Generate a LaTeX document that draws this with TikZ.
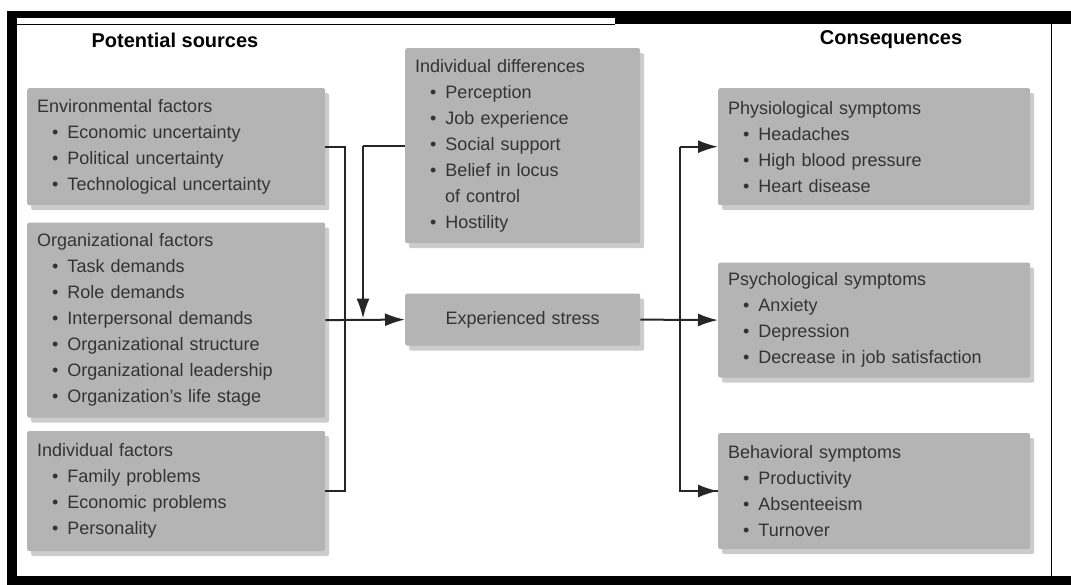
\documentclass[tikz,border=0pt]{standalone}
\usepackage{fontspec}
\setmainfont{Liberation Sans}
\usetikzlibrary{arrows.meta, positioning, shadows, calc}
\definecolor{boxgray}{HTML}{B4B4B4}
\definecolor{boxtext}{HTML}{333333}
\newcommand{\bul}{\hspace*{15pt}\textbullet\hspace{9pt}}

\begin{document}
\begin{tikzpicture}[
        x=1pt, y=-1pt,
        every node/.style={font=\fontsize{18}{26}\selectfont},
        box/.style={fill=boxgray, rounded corners=2pt, text=boxtext, align=left, inner xsep=10pt, inner ysep=0pt,
            drop shadow={fill=black!50, opacity=0.4, shadow xshift=4pt, shadow yshift=-5pt}},
        srcbox/.style={box, text width=278pt},
        midbox/.style={box, text width=215pt},
        conbox/.style={box, text width=292pt},
        title/.style={font=\fontsize{20}{24}\selectfont\bfseries},
        wire/.style={draw=black!85, line width=2pt},
        flow/.style={wire, -{Latex[length=20pt, width=13pt]}}
    ]
        \useasboundingbox (0,0) rectangle (1071,585);

        % Frame
        \fill (7,11) rectangle (1071,18);
        \fill (615,18) rectangle (1071,24);
        \fill (7,11) rectangle (17,585);
        \fill (7,576) rectangle (1071,585);
        \draw[line width=0.8pt] (17,24) -- (615,24);
        \draw[line width=0.8pt] (1051,24) -- (1051,576);

        % Headings
        \node[title] (srchead) at (175,40) {Potential sources};
        \node[title] (conhead) at (891,40) {Consequences};

        % Potential sources
        \node[srcbox, minimum height=117pt, anchor=north west] (env) at (27,88)
            {Environmental factors\\ \bul Economic uncertainty\\ \bul Political uncertainty\\ \bul Technological uncertainty};
        \node[srcbox, minimum height=195pt, below=17pt of env] (org)
            {Organizational factors\\ \bul Task demands\\ \bul Role demands\\ \bul Interpersonal demands\\
             \bul Organizational structure\\ \bul Organizational leadership\\ \bul Organization’s life stage};
        \node[srcbox, minimum height=120pt, below=13pt of org] (indf)
            {Individual factors\\ \bul Family problems\\ \bul Economic problems\\ \bul Personality};

        % Moderators and stress
        \node[midbox, minimum height=195pt, anchor=north west] (idiff) at (405,48)
            {Individual differences\\ \bul Perception\\ \bul Job experience\\ \bul Social support\\
             \bul Belief in locus\\ \hspace*{30pt}of control\\ \bul Hostility};
        \node[midbox, align=center, minimum height=52pt, below=50pt of idiff] (stress) {Experienced stress};

        % Consequences
        \node[conbox, minimum height=117pt, anchor=north west] (phys) at (718,88)
            {Physiological symptoms\\ \bul Headaches\\ \bul High blood pressure\\ \bul Heart disease};
        \node[conbox, minimum height=115pt, below=57pt of phys] (psych)
            {Psychological symptoms\\ \bul Anxiety\\ \bul Depression\\ \bul Decrease in job satisfaction};
        \node[conbox, minimum height=116pt, below=55pt of psych] (behav)
            {Behavioral symptoms\\ \bul Productivity\\ \bul Absenteeism\\ \bul Turnover};

        % Connectors
        \draw[wire] (env.east) -- ++(20,0) |- (indf.east);
        \draw[flow] (org.east) -- (stress.west);
        \draw[wire] (idiff.west) -- ++(-42,0) coordinate (idbend);
        \draw[flow] (idbend) -- ($(idbend |- stress.west)+(0,-1)$);
        \draw[flow] (stress.east) -- (psych.west);
        \draw[wire] (phys.west) ++(-38,0) coordinate (rbus) |- (behav.west);
        \draw[flow] (rbus) -- (phys.west);
        \draw[flow] (rbus |- behav.west) -- (behav.west);
    \end{tikzpicture}
\end{document}
